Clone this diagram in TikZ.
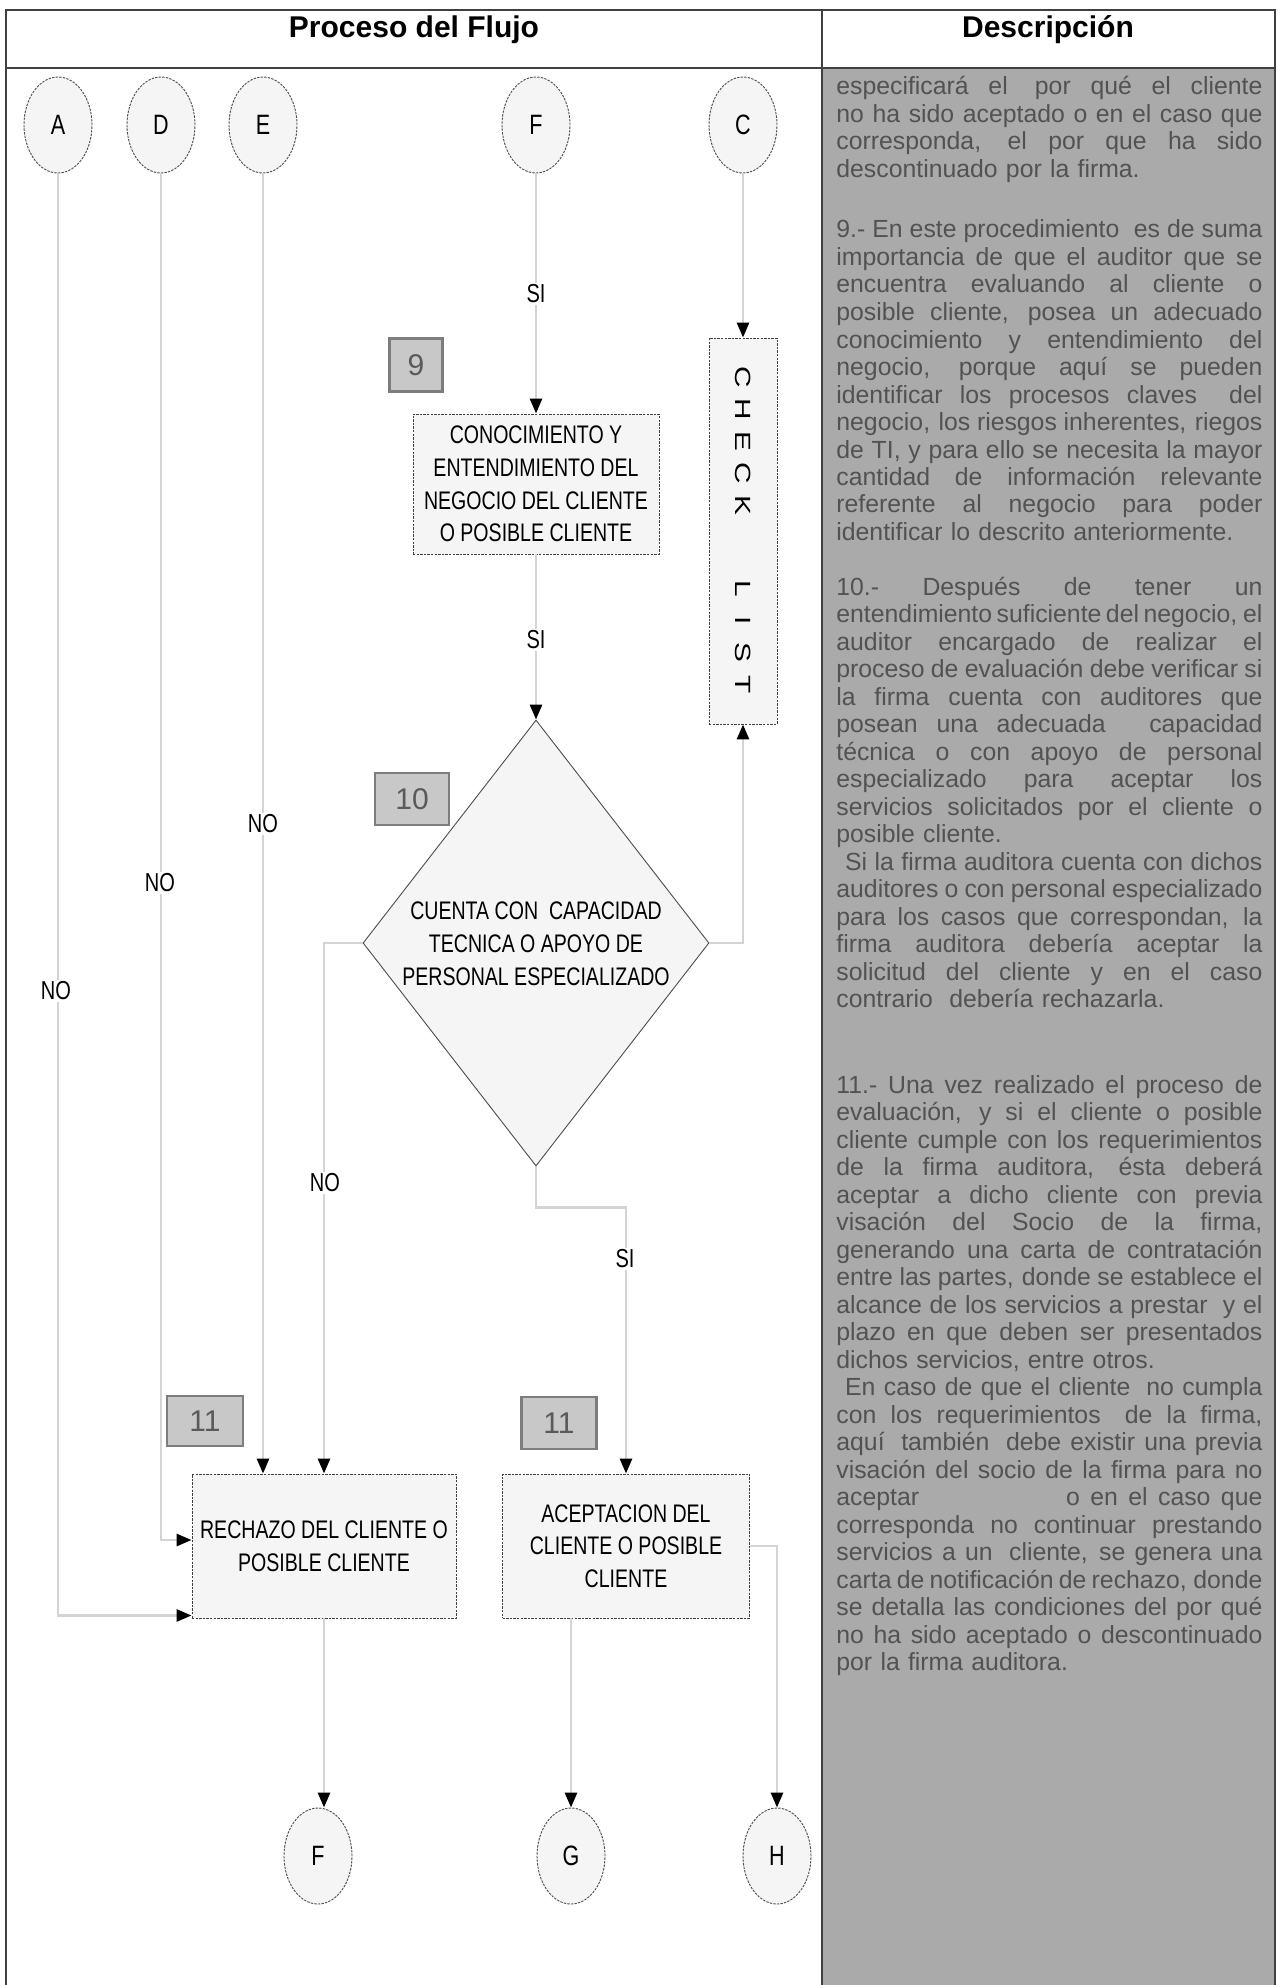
\documentclass[tikz,border=0pt]{standalone}
\usepackage{fontspec}
\setmainfont{Liberation Sans}
\newfontfamily\narrowfont[FakeStretch=0.77]{Liberation Sans}
\newfontfamily\wideletters[FakeStretch=1.35]{Liberation Sans}
\usetikzlibrary{shapes.geometric,arrows.meta,calc}
\definecolor{colbg}{RGB}{170,170,170}
\definecolor{coltext}{RGB}{82,82,82}
\definecolor{wiregray}{RGB}{212,212,212}
\definecolor{numfill}{RGB}{200,200,200}
\definecolor{numedge}{RGB}{125,125,125}
\definecolor{numtext}{RGB}{90,90,90}
\definecolor{shapefill}{RGB}{245,245,245}
% one justified line of the description column: the free space is shared by the word gaps
\newcommand\jl[1]{\leavevmode\hbox to 213pt{\spaceskip=0pt plus 1fil\xspaceskip=0pt plus 1fil\relax #1}}
% one letter of the vertical check-list caption
\newcommand\cl[1]{\makebox[16pt]{#1}}

\begin{document}
\begin{tikzpicture}[x=0.5pt,y=-0.5pt,
  conn/.style={draw=wiregray, line width=1.4pt, -{Triangle[length=7.5pt,width=6pt,color=black]}},
  procbox/.style={rectangle, draw=black!75, dash pattern=on 1.2pt off 0.6pt, line width=0.45pt,
    fill=shapefill, align=center, inner sep=0pt,
    font=\narrowfont\fontsize{12.7pt}{16.3pt}\selectfont},
  connector/.style={ellipse, draw=black!70, dash pattern=on 1.2pt off 0.6pt, line width=0.45pt,
    fill=shapefill, minimum width=34pt, minimum height=48pt, inner sep=0pt,
    font=\narrowfont\fontsize{14pt}{16pt}\selectfont},
  stepnum/.style={rectangle, draw=numedge, line width=1.3pt, fill=numfill, text=numtext,
    inner sep=0pt, font=\fontsize{15pt}{17pt}\selectfont},
  lbl/.style={fill=white, inner sep=1pt, font=\narrowfont\fontsize{13pt}{15pt}\selectfont},
  desc/.style={anchor=base west, text width=213pt, align=left, inner sep=0pt, text=coltext,
    font=\fontsize{12.4pt}{13.75pt}\selectfont},
  headtext/.style={font=\bfseries\fontsize{15pt}{18pt}\selectfont},
]
\useasboundingbox (0,0) rectangle (1278,1985);
\fill[white] (0,0) rectangle (1278,1985);

% table frame and shaded description column
\fill[colbg] (822,68) rectangle (1275,1985);
\draw[black!75, line width=0.8pt] (6,1985) -- (6,10) -- (1275,10) -- (1275,1985);
\draw[black!75, line width=0.8pt] (6,68) -- (1275,68);
\draw[black!75, line width=0.6pt] (822,10) -- (822,1985);

\node[headtext] (hproc) at (414,30) {Proceso del Flujo};
\node[headtext] (hdesc) at (1048,30) {Descripción};

% description column
\node[desc] (d0) at (836,95) {%
\jl{especificará el\hspace{0.3em} por qué el cliente}\\
\jl{no ha sido aceptado o en el caso que}\\
\jl{corresponda, el por que ha sido}\\
descontinuado por la firma.};

\node[desc] (d9) at (836,238) {%
\jl{9.- En este procedimiento\hspace{0.3em} es de suma}\\
\jl{importancia de que el auditor que se}\\
\jl{encuentra evaluando al cliente o}\\
\jl{posible cliente, posea un adecuado}\\
\jl{conocimiento y entendimiento del}\\
\jl{negocio, porque aquí se pueden}\\
\jl{identificar los procesos claves\hspace{0.6em} del}\\
\jl{negocio, los riesgos inherentes, riegos}\\
\jl{de TI, y para ello se necesita la mayor}\\
\jl{cantidad de información relevante}\\
\jl{referente al negocio para poder}\\
identificar lo descrito anteriormente.};

\node[desc] (d10) at (836,595) {%
\jl{10.- Después de tener un}\\
\jl{entendimiento suficiente del negocio, el}\\
\jl{auditor encargado de realizar el}\\
\jl{proceso de evaluación debe verificar si}\\
\jl{la firma cuenta con auditores que}\\
\jl{posean una adecuada\hspace{1em} capacidad}\\
\jl{técnica o con apoyo de personal}\\
\jl{especializado para aceptar los}\\
\jl{servicios solicitados por el cliente o}\\
posible cliente.\\
\jl{\hspace*{0.35em}Si la firma auditora cuenta con dichos}\\
\jl{auditores o con personal especializado}\\
\jl{para los casos que correspondan, la}\\
\jl{firma auditora debería aceptar la}\\
\jl{solicitud del cliente y en el caso}\\
contrario \ debería rechazarla.};

\node[desc] (d11) at (836,1093) {%
\jl{11.- Una vez realizado el proceso de}\\
\jl{evaluación, y si el cliente o posible}\\
\jl{cliente cumple con los requerimientos}\\
\jl{de la firma auditora, ésta deberá}\\
\jl{aceptar a dicho cliente con previa}\\
\jl{visación del Socio de la firma,}\\
\jl{generando una carta de contratación}\\
\jl{entre las partes, donde se establece el}\\
\jl{alcance de los servicios a prestar\hspace{0.3em} y el}\\
\jl{plazo en que deben ser presentados}\\
dichos servicios, entre otros.\\
\jl{\hspace*{0.35em}En caso de que el cliente\hspace{0.3em} no cumpla}\\
\jl{con los requerimientos\hspace{0.4em} de la firma,}\\
\jl{aquí\hspace{0.3em} también\hspace{0.3em} debe existir una previa}\\
\jl{visación del socio de la firma para no}\\
\jl{aceptar\hspace{5.5em} o en el caso que}\\
\jl{corresponda no continuar prestando}\\
\jl{servicios a un\hspace{0.3em} cliente, se genera una}\\
\jl{carta de notificación de rechazo, donde}\\
\jl{se detalla las condiciones del por qué}\\
\jl{no ha sido aceptado o descontinuado}\\
por la firma auditora.};

% off-page connectors at the top
\node[connector] (cA) at (58,125) {A};
\node[connector] (cD) at (161,125) {D};
\node[connector] (cE) at (263,125) {E};
\node[connector] (cF) at (536,125) {F};
\node[connector] (cC) at (743,125) {C};

% process steps
\node[stepnum, minimum width=26.5pt, minimum height=26.5pt] (n9) at (416,365) {9};
\node[procbox, minimum width=123pt, minimum height=70pt] (know) at (536,484)
  {CONOCIMIENTO Y\\ENTENDIMIENTO DEL\\NEGOCIO DEL CLIENTE\\O POSIBLE CLIENTE};

\node[procbox, minimum width=34pt, minimum height=193pt] (chk) at (743,531) {};
\node[rotate=-90, inner sep=0pt, font=\wideletters\fontsize{11pt}{12pt}\selectfont] (chktxt) at (chk.center)
  {\cl{C}\cl{H}\cl{E}\cl{C}\cl{K}\hspace{25.5pt}\cl{L}\cl{I}\cl{S}\cl{T}};

\node[diamond, draw=black!70, line width=0.45pt, fill=shapefill, minimum width=173pt,
  minimum height=223pt, inner sep=0pt] (dec) at (536,943) {};
\node[align=center, inner sep=0pt, font=\narrowfont\fontsize{12.7pt}{16.5pt}\selectfont] (dectxt) at (536,944)
  {CUENTA CON \ CAPACIDAD\\TECNICA O APOYO DE\\PERSONAL ESPECIALIZADO};
\node[stepnum, minimum width=37pt, minimum height=26pt] (n10) at (412,799) {10};

\node[stepnum, minimum width=38pt, minimum height=25pt] (n11a) at (205,1421) {11};
\node[stepnum, minimum width=37.5pt, minimum height=26pt] (n11b) at (559,1423) {11};

\node[procbox, minimum width=132pt, minimum height=72pt] (rech) at (324,1546)
  {RECHAZO DEL CLIENTE O\\POSIBLE CLIENTE};
\node[procbox, minimum width=123.5pt, minimum height=72pt] (acep) at (626,1546)
  {ACEPTACION DEL\\CLIENTE O POSIBLE\\CLIENTE};

% off-page connectors at the bottom
\node[connector] (cF2) at (318,1856) {F};
\node[connector] (cG) at (571,1856) {G};
\node[connector] (cH) at (777,1856) {H};

% flow lines
\draw[conn] (cA.south) |- ($(rech.south west)+(0,-3)$);
\draw[conn] (cD.south) |- ($(rech.west)+(0,-6)$);
\draw[conn] (cE.south) -- (cE.south |- rech.north);
\draw[conn] (cF.south) -- (know.north);
\draw[conn] (know.south) -- (dec.north);
\draw[conn] (cC.south) -- (chk.north);
\draw[conn] (dec.east) -| (chk.south);
\draw[conn] (dec.west) -| (rech.north);
\draw[conn] (dec.south) -- ++(0,41) -| (acep.north);
\draw[conn] (rech.south) -- (rech.south |- cF2.north);
\draw[conn] (cG.north |- acep.south) -- (cG.north);
\draw[conn] (acep.east) -| (cH.north);

% branch labels
\node[lbl] (siF) at (536,294) {SI};
\node[lbl] (siK) at (536,640) {SI};
\node[lbl] (noE) at (263,824) {NO};
\node[lbl] (noD) at (160,883) {NO};
\node[lbl] (noA) at (56,991) {NO};
\node[lbl] (noDec) at (325,1183) {NO};
\node[lbl] (siDec) at (625,1259) {SI};
\end{tikzpicture}
\end{document}
